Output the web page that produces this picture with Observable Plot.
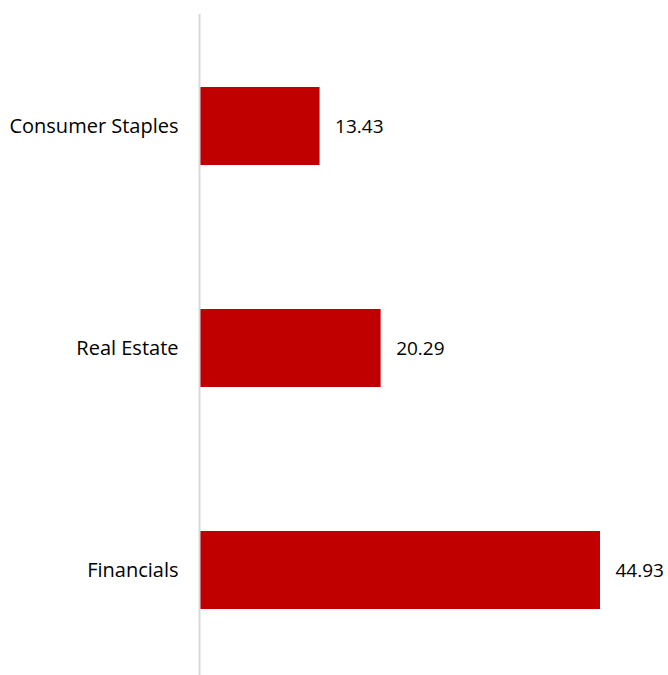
<!DOCTYPE html>
<html>
<head>
<meta charset="utf-8">
<script src="https://cdn.jsdelivr.net/npm/d3@7"></script>
<script src="https://cdn.jsdelivr.net/npm/@observablehq/plot@0.6"></script>
<style>
  html, body { margin: 0; padding: 0; background: #fff; }
  #chart svg { display: block; }
</style>
</head>
<body>
<div id="chart"></div>
<script>
const sectors = ["Consumer Staples", "Real Estate", "Financials"];
const values = [13.43, 20.29, 44.93];

const data = sectors.map((s, i) => ({sector: s, value: values[i]}));

const chart = Plot.plot({
  width: 668,
  height: 675,
  marginLeft: 200,
  marginRight: 68,
  marginTop: 14,
  marginBottom: 0,
  style: {fontFamily: "Open Sans", fontSize: "20px", color: "#000", background: "#fff"},
  x: {domain: [0, 44.93], axis: null},
  y: {domain: sectors, paddingInner: 0.6494, paddingOuter: 0.31, align: 0.522, label: null},
  marks: [
    Plot.barX(data, {x: "value", y: "sector", fill: "#C00000"}),
    Plot.ruleX([0], {stroke: "#d9d9d9", strokeWidth: 2, dx: -1}),
    Plot.axisY({tickSize: 0, tickPadding: 22, fontSize: 20, fill: "#000"}),
    Plot.text(data, {x: "value", y: "sector", text: d => d.value.toFixed(2), textAnchor: "start", dx: 15, fill: "#000", fontSize: 19})
  ]
});
document.getElementById("chart").appendChild(chart);
</script>
</body>
</html>
